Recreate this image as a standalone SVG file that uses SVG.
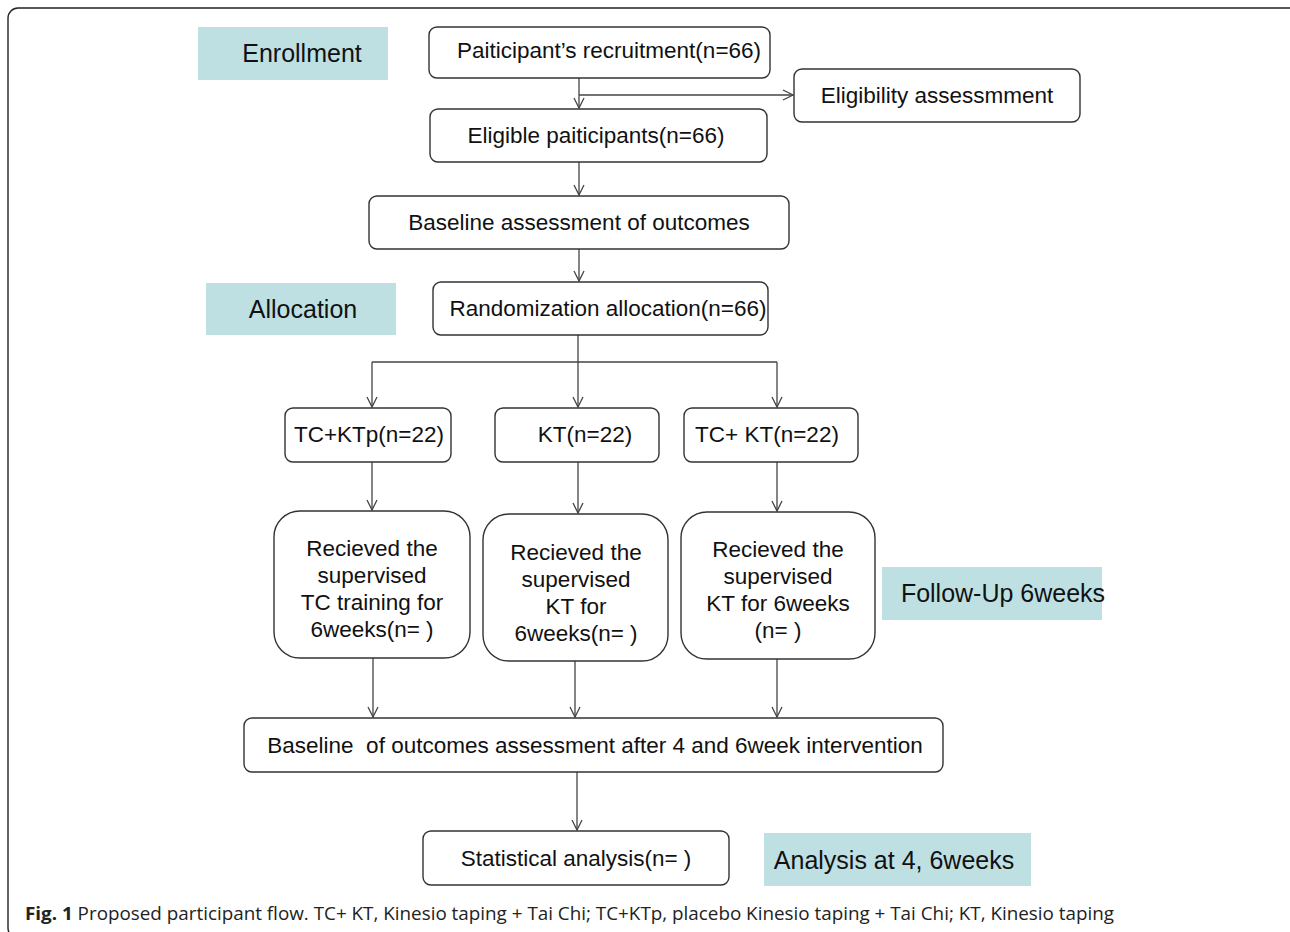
<svg xmlns="http://www.w3.org/2000/svg" width="1290" height="932" viewBox="0 0 1290 932">
<style>
.box{fill:#fff;stroke:#333;stroke-width:1.4}
.lab{fill:#bee0e3;stroke:none}
.t{font-family:"Liberation Sans",Arial,sans-serif;font-size:22.5px;fill:#111;text-anchor:middle;dominant-baseline:central;white-space:pre}
.tl{font-family:"Liberation Sans",Arial,sans-serif;font-size:25px;fill:#111;text-anchor:middle;dominant-baseline:central}
.c{fill:none;stroke:#444;stroke-width:1.3}
.cap{font-family:"Open Sans","Noto Sans",sans-serif;font-size:17.5px;fill:#222}
</style>
<defs>
<marker id="ah" viewBox="0 0 12 12" refX="11" refY="6" markerWidth="12" markerHeight="12" markerUnits="userSpaceOnUse" orient="auto">
<path d="M1 1 L11 6 L1 11" fill="none" stroke="#444" stroke-width="1.3"/>
</marker>
</defs>
<rect width="1290" height="932" fill="#fff"/>
<rect x="8" y="8" width="1300" height="930" rx="10" fill="none" stroke="#222" stroke-width="1.4"/>

<g id="connectors">
<path class="c" d="M579 78 V108" marker-end="url(#ah)"/>
<path class="c" d="M579 95 H793" marker-end="url(#ah)"/>
<path class="c" d="M579 162 V195" marker-end="url(#ah)"/>
<path class="c" d="M579 249 V281" marker-end="url(#ah)"/>
<path class="c" d="M578 335 V362 M372 362 H777"/>
<path class="c" d="M372 362 V407" marker-end="url(#ah)"/>
<path class="c" d="M578 362 V407" marker-end="url(#ah)"/>
<path class="c" d="M777 362 V407" marker-end="url(#ah)"/>
<path class="c" d="M372 462 V510" marker-end="url(#ah)"/>
<path class="c" d="M578 462 V513" marker-end="url(#ah)"/>
<path class="c" d="M777 462 V511" marker-end="url(#ah)"/>
<path class="c" d="M373 658 V717" marker-end="url(#ah)"/>
<path class="c" d="M575 661 V717" marker-end="url(#ah)"/>
<path class="c" d="M777 659 V717" marker-end="url(#ah)"/>
<path class="c" d="M577 772 V830" marker-end="url(#ah)"/>
</g>

<g id="enrollment"><rect class="lab" x="198" y="27" width="190" height="53"/><text class="tl" x="302" y="53">Enrollment</text></g>
<g id="recruitment"><rect class="box" x="429" y="27" width="341" height="51" rx="8"/><text class="t" x="609" y="50">Paiticipant’s recruitment(n=66)</text></g>
<g id="eligibility"><rect class="box" x="794" y="69" width="286" height="53" rx="8"/><text class="t" x="937" y="95">Eligibility assessmment</text></g>
<g id="eligible"><rect class="box" x="430" y="109" width="337" height="53" rx="8"/><text class="t" x="596" y="135">Eligible paiticipants(n=66)</text></g>
<g id="baseline"><rect class="box" x="369" y="196" width="420" height="53" rx="8"/><text class="t" x="579" y="222">Baseline assessment of outcomes</text></g>
<g id="allocation"><rect class="lab" x="206" y="283" width="190" height="52"/><text class="tl" x="303" y="309">Allocation</text></g>
<g id="randomization"><rect class="box" x="433" y="282" width="335" height="53" rx="8"/><text class="t" x="608" y="308">Randomization allocation(n=66)</text></g>

<g id="tcktp"><rect class="box" x="285" y="408" width="166" height="54" rx="8"/><text class="t" x="369" y="434">TC+KTp(n=22)</text></g>
<g id="kt"><rect class="box" x="495" y="408" width="164" height="54" rx="8"/><text class="t" x="585" y="434">KT(n=22)</text></g>
<g id="tckt"><rect class="box" x="684" y="408" width="174" height="54" rx="8"/><text class="t" x="767" y="434">TC+ KT(n=22)</text></g>

<g id="recv1"><rect class="box" x="274" y="511" width="196" height="147" rx="26"/>
<text class="t" x="372" y="548">Recieved the</text><text class="t" x="372" y="575">supervised</text><text class="t" x="372" y="602">TC training for</text><text class="t" x="372" y="629">6weeks(n= )</text></g>
<g id="recv2"><rect class="box" x="483" y="514" width="185" height="147" rx="26"/>
<text class="t" x="576" y="552">Recieved the</text><text class="t" x="576" y="579">supervised</text><text class="t" x="576" y="606">KT for</text><text class="t" x="576" y="633">6weeks(n= )</text></g>
<g id="recv3"><rect class="box" x="681" y="512" width="194" height="147" rx="26"/>
<text class="t" x="778" y="549">Recieved the</text><text class="t" x="778" y="576">supervised</text><text class="t" x="778" y="603">KT for 6weeks</text><text class="t" x="778" y="630">(n= )</text></g>
<g id="followup"><rect class="lab" x="882" y="567" width="220" height="53"/><text class="tl" x="1003" y="593">Follow-Up 6weeks</text></g>

<g id="outcomes"><rect class="box" x="244" y="718" width="699" height="54" rx="8"/><text class="t" x="595" y="745">Baseline  of outcomes assessment after 4 and 6week intervention</text></g>
<g id="stats"><rect class="box" x="423" y="831" width="306" height="54" rx="8"/><text class="t" x="576" y="858">Statistical analysis(n= )</text></g>
<g id="analysis"><rect class="lab" x="764" y="833" width="267" height="53"/><text class="tl" x="894" y="860">Analysis at 4, 6weeks</text></g>

<text class="cap" x="25" y="920" textLength="1089" lengthAdjust="spacingAndGlyphs"><tspan font-weight="bold">Fig. 1</tspan> Proposed participant flow. TC+ KT, Kinesio taping + Tai Chi; TC+KTp, placebo Kinesio taping + Tai Chi; KT, Kinesio taping</text>
</svg>
